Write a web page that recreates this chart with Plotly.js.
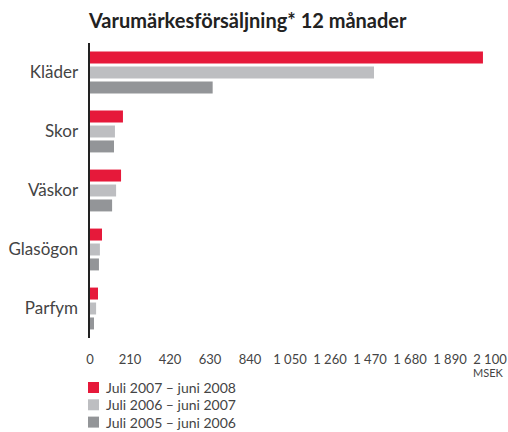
<!DOCTYPE html>
<html>
<head>
<meta charset="utf-8">
<script src="https://cdn.plot.ly/plotly-3.0.1.min.js"></script>
<style>html,body{margin:0;padding:0;background:#fff;}#chart{width:508px;height:432px;}</style>
</head>
<body>
<div id="chart"></div>
<script>
const categories = ["Kläder", "Skor", "Väskor", "Glasögon", "Parfym"];
const seriesNames = ["Juli 2007 – juni 2008", "Juli 2006 – juni 2007", "Juli 2005 – juni 2006"];
const values2008 = [2063, 173, 163, 63, 42];
const values2007 = [1491, 131, 137, 52, 32];
const values2006 = [644, 126, 116, 47, 21];
const tickValues = [0, 210, 420, 630, 840, 1050, 1260, 1470, 1680, 1890, 2100];
const tickLabels = ["0", "210", "420", "630", "840", "1 050", "1 260", "1 470", "1 680", "1 890", "2 100"];
const colors = ["#E6193A", "#BDBEC1", "#939598"];

const allValues = [values2008, values2007, values2006];
const traces = allValues.map((vals, i) => ({
  type: "bar",
  orientation: "h",
  name: seriesNames[i],
  y: categories,
  x: vals,
  marker: {color: colors[i]},
  hoverinfo: "none",
  showlegend: false
}));

// plot area in pixels: x 90..490, y 43..338
const px = p => (p - 90) / 400;
const py = p => (338 - p) / 295;

const font = "Lato, 'Open Sans', sans-serif";
const rowY = i => 387.5 + 17.3 * i;
const legendShapes = seriesNames.map((n, i) => ({
  type: "rect", xref: "paper", yref: "paper",
  x0: px(88), x1: px(99),
  y0: py(rowY(i) - 5.5), y1: py(rowY(i) + 5.5),
  fillcolor: colors[i], line: {width: 0}
}));
const legendTexts = seriesNames.map((n, i) => ({
  text: n, xref: "paper", yref: "paper",
  x: px(104), xanchor: "left",
  y: py(rowY(i)), yanchor: "middle",
  showarrow: false,
  font: {size: 14, color: "#444", family: font}
}));

const layout = {
  width: 508, height: 432,
  margin: {l: 90, r: 18, t: 43, b: 94, autoexpand: false},
  paper_bgcolor: "#fff", plot_bgcolor: "#fff",
  barmode: "group",
  bargap: 0.24,
  bargroupgap: 0.2,
  font: {family: font, color: "#444"},
  title: {
    text: "<b>Varumärkesförsäljning* 12 månader</b>",
    font: {family: font, size: 20, color: "#222"},
    xref: "container", x: 89/508, xanchor: "left",
    yref: "container", y: 1 - 21/432, yanchor: "middle"
  },
  xaxis: {
    range: [0, 2100],
    tickvals: tickValues, ticktext: tickLabels,
    showgrid: false, zeroline: false, showline: false,
    ticks: "", ticklabelstandoff: 12,
    tickfont: {size: 13, color: "#444", family: font},
    fixedrange: true
  },
  yaxis: {
    autorange: "reversed",
    showline: true, linecolor: "#222", linewidth: 2.5,
    showgrid: false, zeroline: false, ticks: "",
    ticklabelstandoff: 6,
    tickfont: {size: 17, color: "#444", family: font},
    fixedrange: true
  },
  showlegend: false,
  shapes: legendShapes,
  annotations: [{
    text: "MSEK", xref: "paper", yref: "paper",
    x: px(506), xanchor: "right",
    y: py(372), yanchor: "middle",
    showarrow: false,
    font: {size: 11, color: "#444", family: font}
  }].concat(legendTexts)
};
Plotly.newPlot("chart", traces, layout, {displayModeBar: false, staticPlot: true});
</script>
</body>
</html>
